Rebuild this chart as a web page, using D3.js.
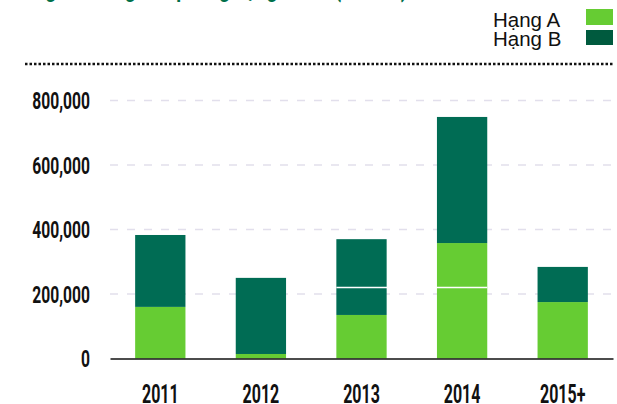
<!DOCTYPE html>
<html lang="vi">
<head>
<meta charset="UTF-8">
<title>Nguồn cung</title>
<script src="https://d3js.org/d3.v7.min.js"></script>
<style>
  body { margin: 0; background: #fff; }
  .num { font-family: Roboto, "Liberation Sans", sans-serif; font-weight: bold; fill: #111; }
</style>
</head>
<body>
<div id="chart"></div>
<script>
    // données
    const years = ['2011', '2012', '2013', '2014', '2015+'];
    const hangA = [160000, 14000, 135000, 358000, 175000];
    const hangB = [223000, 236000, 235000, 391000, 109000];
    const yTicks = [0, 200000, 400000, 600000, 800000];
    const legendLabels = ['Hạng A', 'Hạng B'];
    const titleText = 'Nguồn cung văn phòng hạng A & B (m² sàn)';
    const markValue = 220000; // trait blanc sur 2013-2014

    const W = 617, H = 404,
        mLeft = 110, mRight = 613, mTop = 100.5, mBottom = 358.5,
        colA = '#66cc33', colB = '#006c54';

    const svg = d3.select('#chart').append('svg')
        .attr('width', W).attr('height', H);

    const x = d3.scaleBand(years, [mLeft, mRight]).paddingInner(0.5).paddingOuter(0.25);
    const y = d3.scaleLinear([0, 800000], [mBottom, mTop]);

    // titre coupé en haut
    svg.append('text').attr('transform', 'translate(32,-3) scale(0.8,1)')
        .attr('fill', '#00704a').style('font', 'bold 24px Roboto, sans-serif')
        .text(titleText);

    // légende
    const leg = svg.append('g');
    legendLabels.forEach((l, i) => {
        leg.append('text').attr('x', 493).attr('y', 27 + i * 18.5)
            .style('font', '20.5px "Liberation Sans", Arial, sans-serif').attr('fill', '#111')
            .text(l);
        leg.append('rect').attr('x', 586).attr('y', 9 + i * 21)
            .attr('width', 27).attr('height', i == 0 ? 16 : 15)
            .attr('fill', i == 0 ? colA : '#005a3e');
    });

    // ligne pointillée
    svg.append('line').attr('x1', 25).attr('x2', 613).attr('y1', 64).attr('y2', 64)
        .attr('stroke', '#111').attr('stroke-width', 2.5).attr('stroke-dasharray', '2.5,2');

    // grille
    svg.append('g').selectAll('line').data(yTicks.filter(d => d > 0)).join('line')
        .attr('x1', mLeft).attr('x2', mRight)
        .attr('y1', d => y(d)).attr('y2', d => y(d))
        .attr('stroke', '#e2dfec').attr('stroke-width', 1.5).attr('stroke-dasharray', '8,9');

    // axe Y
    const yAxis = svg.append('g').attr('transform', `translate(${mLeft - 20},0)`)
        .call(d3.axisLeft(y).tickValues(yTicks).tickFormat(d3.format(',')).tickSize(0));
    yAxis.select('.domain').remove();
    yAxis.selectAll('text').attr('class', 'num').attr('x', 0)
        .style('font-size', '23px').attr('dy', '0.36em')
        .attr('transform', 'scale(0.68,1)');

    // barres
    const data = years.map((yr, i) => ({year: yr, a: hangA[i], b: hangB[i]}));
    const stack = d3.stack().keys(['a', 'b'])(data);
    svg.append('g').selectAll('g').data(stack).join('g')
        .attr('fill', (d, i) => i == 0 ? colA : colB)
        .selectAll('rect').data(d => d).join('rect')
        .attr('x', d => x(d.data.year))
        .attr('width', x.bandwidth())
        .attr('y', d => y(d[1]))
        .attr('height', d => y(d[0]) - y(d[1]));

    // trait blanc
    svg.append('line')
        .attr('x1', x('2013')).attr('x2', x('2014') + x.bandwidth())
        .attr('y1', y(markValue)).attr('y2', y(markValue))
        .attr('stroke', '#fff').attr('stroke-width', 1.5);

    // axe X
    const xAxis = svg.append('g').attr('transform', `translate(0,${mBottom})`)
        .call(d3.axisBottom(x).tickSize(0));
    xAxis.select('.domain').attr('stroke', '#111').attr('stroke-width', 1.5);
    xAxis.selectAll('text').attr('class', 'num').style('font-size', '25px')
        .attr('y', 44.5).attr('dy', 0)
        .attr('transform', 'scale(0.64,1)');
</script>
</body>
</html>
